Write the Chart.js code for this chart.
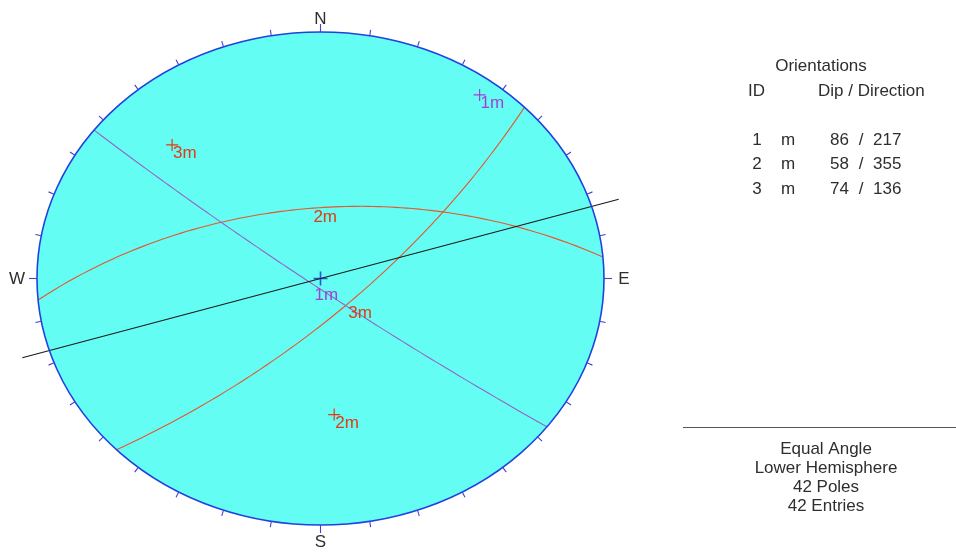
<!DOCTYPE html>
<html>
<head>
<meta charset="utf-8">
<script src="https://cdn.jsdelivr.net/npm/chart.js@4"></script>
<style>
  html, body { margin: 0; padding: 0; background: #fff; }
  #wrap { width: 956px; height: 552px; }
</style>
</head>
<body>
<div id="wrap"><canvas id="grafica" width="956" height="552"></canvas></div>
<script>
// Datos de las orientaciones
const planeIds = ['1', '2', '3'];
const planeTypes = ['m', 'm', 'm'];
const dips = [86, 58, 74];
const dipDirections = [217, 355, 136];
const planeColors = ['#9466c4', '#e5572f', '#e5572f'];
const labelColors = ['#a540d4', '#e23a14', '#e23a14'];

// linea negra que cruza la red
const traceTrend = 73;
const traceLength = 1.1;

const cardinals = ['N', 'E', 'S', 'W'];
const tickStep = 10;
const infoLines = ['Equal Angle', 'Lower Hemisphere', '42 Poles', '42 Entries'];

const FONT = '"Liberation Sans", Arial, sans-serif';
const rad = d => d * Math.PI / 180;

// proyeccion estereografica (hemisferio inferior)
function proyectar(trend, plunge) {
  const e = Math.sin(rad(trend)) * Math.cos(rad(plunge));
  const n = Math.cos(rad(trend)) * Math.cos(rad(plunge));
  const dn = Math.sin(rad(plunge));
  return { x: e / (1 + dn), y: n / (1 + dn) };
}

function polo(dip, dd) {
  return proyectar(dd + 180, 90 - dip);
}

function circuloMayor(dip, dd) {
  const pts = [];
  const s = rad(dd - 90), a = rad(dd), d = rad(dip);
  for (let t = 0; t <= 180; t += 2) {
    const c = Math.cos(rad(t)), si = Math.sin(rad(t));
    const e = c * Math.sin(s) + si * Math.sin(a) * Math.cos(d);
    const n = c * Math.cos(s) + si * Math.cos(a) * Math.cos(d);
    const dn = si * Math.sin(d);
    pts.push({ x: e / (1 + dn), y: n / (1 + dn) });
  }
  return pts;
}

const datasets = [];

// linea negra
datasets.push({
  data: [
    { x: -traceLength * Math.sin(rad(traceTrend)), y: -traceLength * Math.cos(rad(traceTrend)) },
    { x: traceLength * Math.sin(rad(traceTrend)), y: traceLength * Math.cos(rad(traceTrend)) }
  ],
  showLine: true, borderColor: '#1b1b1b', borderWidth: 1.2, pointRadius: 0, clip: false
});

// circulos mayores
dips.forEach((dip, i) => {
  datasets.push({
    data: circuloMayor(dip, dipDirections[i]),
    showLine: true, borderColor: planeColors[i], borderWidth: 1.1, pointRadius: 0, clip: false
  });
});

// polos
dips.forEach((dip, i) => {
  datasets.push({
    data: [polo(dip, dipDirections[i])],
    pointStyle: 'cross', pointRadius: 6, borderColor: labelColors[i], borderWidth: 1.2, clip: false
  });
});

// cruz del centro
datasets.push({
  data: [{ x: 0, y: 0 }],
  pointStyle: 'cross', pointRadius: 7, borderColor: '#2b58d6', borderWidth: 1.6, clip: false
});

const redPlugin = {
  id: 'red',
  beforeDatasetsDraw(chart) {
    const { ctx, scales: { x, y } } = chart;
    const cx = x.getPixelForValue(0), cy = y.getPixelForValue(0);
    const rx = x.getPixelForValue(1) - cx, ry = cy - y.getPixelForValue(1);
    ctx.save();
    ctx.beginPath();
    ctx.ellipse(cx, cy, rx, ry, 0, 0, 2 * Math.PI);
    ctx.fillStyle = '#64fdf4';
    ctx.fill();
    ctx.restore();
  },
  afterDatasetsDraw(chart) {
    const { ctx, scales: { x, y } } = chart;
    const cx = x.getPixelForValue(0), cy = y.getPixelForValue(0);
    const rx = x.getPixelForValue(1) - cx, ry = cy - y.getPixelForValue(1);
    ctx.save();

    // borde
    ctx.beginPath();
    ctx.ellipse(cx, cy, rx, ry, 0, 0, 2 * Math.PI);
    ctx.strokeStyle = '#2142de';
    ctx.lineWidth = 1.6;
    ctx.stroke();

    // marcas cada 10 grados
    ctx.strokeStyle = '#4a3fd0';
    ctx.lineWidth = 1.1;
    for (let az = 0; az < 360; az += tickStep) {
      const px = x.getPixelForValue(Math.sin(rad(az)));
      const py = y.getPixelForValue(Math.cos(rad(az)));
      let nx = Math.sin(rad(az)) / rx, ny = -Math.cos(rad(az)) / ry;
      const len = Math.hypot(nx, ny);
      nx /= len; ny /= len;
      const l = az % 90 === 0 ? 8 : 6;
      ctx.beginPath();
      ctx.moveTo(px, py);
      ctx.lineTo(px + nx * l, py + ny * l);
      ctx.stroke();
    }

    // N E S W
    ctx.fillStyle = '#2e2e2e';
    ctx.font = '17px ' + FONT;
    ctx.textAlign = 'center';
    ctx.textBaseline = 'middle';
    ctx.fillText(cardinals[0], cx, y.getPixelForValue(1) - 13);
    ctx.fillText(cardinals[1], x.getPixelForValue(1) + 20, cy + 1);
    ctx.fillText(cardinals[2], cx, y.getPixelForValue(-1) + 17);
    ctx.fillText(cardinals[3], x.getPixelForValue(-1) - 20, cy + 1);

    // etiquetas de polos y circulos
    ctx.font = '17px ' + FONT;
    ctx.textAlign = 'left';
    ctx.textBaseline = 'top';
    dips.forEach((dip, i) => {
      const lbl = planeIds[i] + planeTypes[i];
      const p = polo(dip, dipDirections[i]);
      const a = proyectar(dipDirections[i], dip);
      ctx.fillStyle = labelColors[i];
      ctx.fillText(lbl, x.getPixelForValue(p.x) + 1, y.getPixelForValue(p.y) + 0);
      ctx.fillText(lbl, x.getPixelForValue(a.x) + 0, y.getPixelForValue(a.y) + 1);
    });

    // panel de la derecha
    ctx.fillStyle = '#2e2e2e';
    ctx.font = '17px ' + FONT;
    ctx.textBaseline = 'middle';
    ctx.textAlign = 'center';
    ctx.fillText('Orientations', 821, 66);
    ctx.textAlign = 'left';
    ctx.fillText('ID', 748, 91);
    ctx.fillText('Dip / Direction', 818, 91);
    dips.forEach((dip, i) => {
      const ry2 = 140 + 24.5 * i;
      ctx.textAlign = 'center';
      ctx.fillText(planeIds[i], 757, ry2);
      ctx.textAlign = 'left';
      ctx.fillText(planeTypes[i], 781, ry2);
      ctx.textAlign = 'right';
      ctx.fillText(String(dip), 849, ry2);
      ctx.textAlign = 'center';
      ctx.fillText('/', 861, ry2);
      ctx.textAlign = 'left';
      ctx.fillText(String(dipDirections[i]), 873, ry2);
    });

    ctx.strokeStyle = '#555';
    ctx.lineWidth = 1;
    ctx.beginPath();
    ctx.moveTo(683, 427.5);
    ctx.lineTo(956, 427.5);
    ctx.stroke();

    ctx.textAlign = 'center';
    infoLines.forEach((t, i) => {
      ctx.fillText(t, 826, 449 + 19 * i);
    });
    ctx.restore();
  }
};

const chart = new Chart(document.getElementById('grafica').getContext('2d'), {
  type: 'scatter',
  data: { datasets },
  options: {
    responsive: false,
    animation: false,
    events: [],
    layout: { padding: { left: 37, right: 352, top: 32, bottom: 27 } },
    plugins: { legend: { display: false }, tooltip: { enabled: false } },
    scales: {
      x: { type: 'linear', min: -1, max: 1, display: false },
      y: { type: 'linear', min: -1, max: 1, display: false }
    }
  },
  plugins: [redPlugin]
});
</script>
</body>
</html>
